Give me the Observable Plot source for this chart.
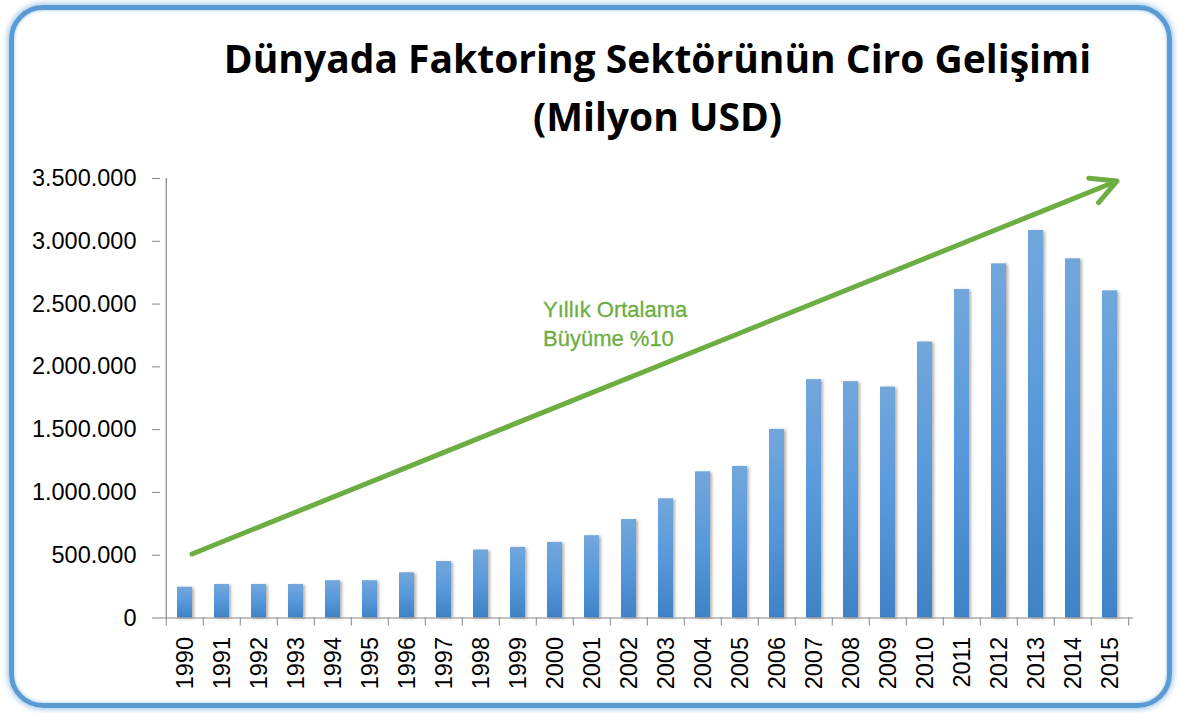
<!DOCTYPE html>
<html>
<head>
<meta charset="utf-8">
<script src="https://cdn.jsdelivr.net/npm/d3@7"></script>
<script src="https://cdn.jsdelivr.net/npm/@observablehq/plot@0.6"></script>
<style>
  html, body { margin: 0; padding: 0; background: #fff; }
  #page { position: relative; width: 1185px; height: 713px; overflow: hidden; background: #fff; }
  #border { position: absolute; left: 9px; top: 5px; width: 1153px; height: 693px;
    border: 5px solid #5B9BD5; border-radius: 34px;
    box-shadow: 0 0 5px 2px rgba(155,194,230,0.8), inset 0 0 3px 1px rgba(155,194,230,0.6); }
  #title { position: absolute; left: 130px; top: 29px; width: 1055px; text-align: center;
    font-family: "Open Sans", sans-serif; font-weight: 700; font-size: 39px; line-height: 58px; color: #000; }
  #chart { position: absolute; left: 0; top: 150px; }
</style>
</head>
<body>
<div id="page">
  <div id="border"></div>
  <div id="title">Dünyada Faktoring Sektörünün Ciro Gelişimi<br>(Milyon USD)</div>
  <div id="chart"></div>
</div>
<script>
const years = ["1990","1991","1992","1993","1994","1995","1996","1997","1998","1999","2000","2001","2002",
               "2003","2004","2005","2006","2007","2008","2009","2010","2011","2012","2013","2014","2015"];
const turnover = [245000, 267000, 267000, 267000, 297000, 297000, 360000, 450000, 541000, 562000, 602000, 655000, 784000,
                  949000, 1164000, 1207000, 1502000, 1898000, 1882000, 1839000, 2198000, 2616000, 2820000, 3086000, 2860000, 2605000];
const yTicks = [0, 500000, 1000000, 1500000, 2000000, 2500000, 3000000, 3500000];
const trendArrow = [{x1: "1990", y1: 510000, x2: "2015", y2: 3480000}];
const annotation = [{x: "2000", y: 2356000, text: "Yıllık Ortalama\nBüyüme %10"}];

const data = years.map((y, i) => ({year: y, value: turnover[i]}));
const fmt = d => d3.format(",")(d).replace(/,/g, ".");
const green = "#6DAE42";
const axisGray = "#868686";
const half = (1185 - 160 - 52) / years.length / 2;

const chart = Plot.plot({
  width: 1185,
  height: 563,
  marginTop: 28,
  marginBottom: 95.5,
  marginLeft: 160,
  marginRight: 52,
  style: {fontFamily: "'Liberation Sans', Arial, sans-serif", fontSize: "23px", color: "#000", background: "transparent"},
  x: {domain: years, paddingInner: 0.6, paddingOuter: 0.3, label: null},
  y: {domain: [0, 3500000], label: null},
  marks: [
    Plot.barY(data, {x: "year", y: "value", fill: "url(#barGrad)"}),
    Plot.ruleY([0], {stroke: axisGray, strokeWidth: 1.2}),
    Plot.ruleX(["1990"], {y1: 0, y2: 3500000, dx: -half, stroke: axisGray, strokeWidth: 1.2}),
    Plot.axisY(yTicks, {tickSize: 8, tickPadding: 16, tickFormat: fmt, stroke: axisGray, fill: "#000", fontSize: 23.5}),
    Plot.axisX({tickSize: 8, tickFormat: () => "", dx: -half, stroke: axisGray}),
    Plot.axisX(["2015"], {tickSize: 8, tickFormat: () => "", dx: half, stroke: axisGray}),
    Plot.axisX({tickSize: 0, tickPadding: 19, tickRotate: -90, fill: "#000", fontSize: 23.5}),
    Plot.arrow(trendArrow, {x1: "x1", y1: "y1", x2: "x2", y2: "y2", dx: 7, stroke: green, strokeWidth: 5, headLength: 8.5, headAngle: 55}),
    Plot.text(annotation, {x: "x", y: "y", text: "text", textAnchor: "start", dx: -12, lineAnchor: "middle",
      lineHeight: 1.3, fontSize: 22, fill: green, stroke: green, strokeWidth: 0.3})
  ]
});

// gradient definition for bars
const ns = "http://www.w3.org/2000/svg";
const defs = document.createElementNS(ns, "defs");
defs.innerHTML = `<linearGradient id="barGrad" x1="0" y1="0" x2="0" y2="1">
  <stop offset="0" stop-color="#73A7DB"/>
  <stop offset="0.5" stop-color="#5799DB"/>
  <stop offset="1" stop-color="#3F82C5"/>
</linearGradient>`;
chart.insertBefore(defs, chart.firstChild);
chart.querySelectorAll("rect").forEach(r => {
  if (r.getAttribute("fill") === "url(#barGrad)" || (r.parentNode && r.parentNode.getAttribute("fill") === "url(#barGrad)")) {
    r.style.filter = "drop-shadow(2px 1px 1.5px rgba(0,0,0,0.3))";
  }
});
document.getElementById("chart").appendChild(chart);
</script>
</body>
</html>
